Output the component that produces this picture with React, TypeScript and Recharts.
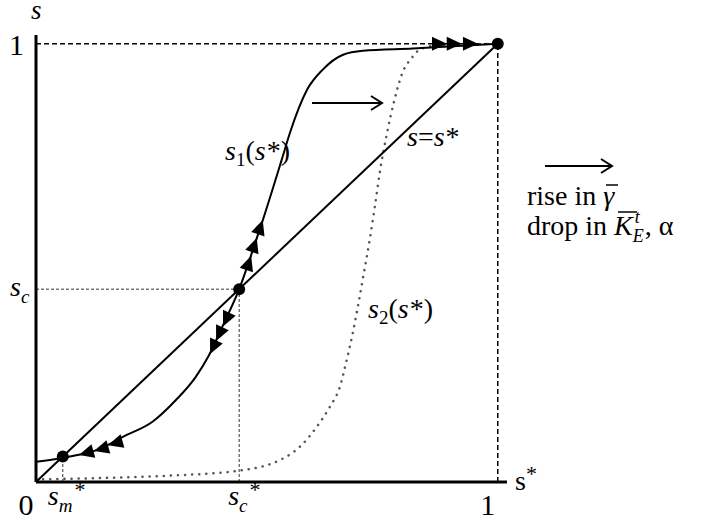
import React from 'react'
import { ComposedChart, Line, Scatter, XAxis, YAxis, ReferenceLine } from 'recharts'

// equilibrium points
const SM = 0.058
const SC = 0.44

// s1(s*) – solid curve
const S1_X = [0, 0.058, 0.093, 0.126, 0.158, 0.188, 0.253, 0.303, 0.346, 0.374, 0.405, 0.44, 0.465, 0.491, 0.532, 0.55, 0.587, 0.621, 0.665, 0.708, 0.816, 1]
const S1_Y = [0.046, 0.055, 0.062, 0.071, 0.086, 0.103, 0.138, 0.187, 0.24, 0.288, 0.358, 0.44, 0.515, 0.597, 0.735, 0.797, 0.895, 0.941, 0.975, 0.984, 0.989, 1]

// s2(s*) – dotted curve
const S2_X = [0, 0.1, 0.2, 0.3, 0.448, 0.485, 0.528, 0.571, 0.608, 0.636, 0.658, 0.673, 0.686, 0.697, 0.708, 0.723, 0.734, 0.745, 0.76, 0.777, 0.794, 0.814, 0.825, 0.86, 1]
const S2_Y = [0.006, 0.008, 0.011, 0.015, 0.027, 0.034, 0.05, 0.08, 0.126, 0.171, 0.217, 0.279, 0.34, 0.4, 0.465, 0.555, 0.63, 0.71, 0.795, 0.875, 0.935, 0.968, 0.982, 0.995, 1]

// s = s*
const DIAG = [0, 1]

// arrow heads along s1: tip position + direction (data units)
const ARROW_X = [0.89, 0.922, 0.957, 0.466, 0.478, 0.491, 0.405, 0.39, 0.377, 0.093, 0.1255, 0.156]
const ARROW_Y = [1, 1, 1, 0.516, 0.557, 0.598, 0.355, 0.322, 0.292, 0.0616, 0.0708, 0.084]
const ARROW_DX = [1, 1, 1, 0.051, 0.051, 0.051, -0.03, -0.03, -0.03, -1, -1, -1]
const ARROW_DY = [0, 0, 0, 0.158, 0.158, 0.158, -0.068, -0.068, -0.068, -0.3, -0.3, -0.3]

const DOT_X = [SM, SC, 1]

const W = 712
const H = 521
const MARGIN = { top: 35, right: 205, bottom: 0, left: 0 }
const PX_X = 462 // px per unit on x
const PX_Y = 438 // px per unit on y
const FONT = "'Liberation Serif', 'DejaVu Serif', serif"
const serif = { fontFamily: FONT }

const s1Data = S1_X.map((x, i) => ({ x, y: S1_Y[i] }))
const s2Data = S2_X.map((x, i) => ({ x, y: S2_Y[i] }))
const diagData = DIAG.map(v => ({ x: v, y: v }))
const arrowData = ARROW_X.map((x, i) => ({ x, y: ARROW_Y[i], dx: ARROW_DX[i], dy: ARROW_DY[i] }))
const dotData = DOT_X.map(v => ({ x: v, y: v }))

const ArrowHead = (props: any) => {
  const { cx, cy, payload } = props
  const ang = (Math.atan2(-payload.dy * PX_Y, payload.dx * PX_X) * 180) / Math.PI
  return (
    <polygon
      points="0,0 -15,-7 -15,7"
      fill="#000"
      transform={`translate(${cx},${cy}) rotate(${ang})`}
    />
  )
}

const Dot = (props: any) => <circle cx={props.cx} cy={props.cy} r={6} fill="#000" />

const XTick = (props: any) => {
  const { x, y, payload } = props
  const v = payload.value
  if (v === 0 || v === 1) {
    return (
      <text x={x - 10} y={y + 33} fontSize={30} style={serif} textAnchor="middle" fill="#000">
        {v === 0 ? '0' : '1'}
      </text>
    )
  }
  const sub = v === SM ? 'm' : 'c'
  return (
    <text x={x - (v === SM ? 15 : 11)} y={y + 23} fontSize={28} style={serif} fill="#000">
      <tspan fontStyle="italic">s</tspan>
      <tspan fontStyle="italic" fontSize={19} dy={7}>{sub}</tspan>
      <tspan fontSize={22} dx={2} dy={-15}>*</tspan>
    </text>
  )
}

const YTick = (props: any) => {
  const { x, y, payload } = props
  if (payload.value === 1) {
    return <text x={x - 12} y={y + 11} fontSize={30} style={serif} textAnchor="end" fill="#000">1</text>
  }
  return (
    <text x={x - 26} y={y + 7} fontSize={28} style={serif} fill="#000">
      <tspan fontStyle="italic">s</tspan>
      <tspan fontStyle="italic" fontSize={19} dy={7}>c</tspan>
    </text>
  )
}

const Annotations = () => (
  <svg width={W} height={H} style={{ position: 'absolute', left: 0, top: 0, pointerEvents: 'none' }}>
    <g style={serif} fill="#000">
      <text x={31} y={19} fontSize={27} fontStyle="italic">s</text>
      <text x={515} y={490} fontSize={28}>
        s<tspan fontSize={22} dy={-9}>*</tspan>
      </text>

      <text x={225} y={160} fontSize={28}>
        <tspan fontStyle="italic">s</tspan>
        <tspan fontSize={19} dy={6}>1</tspan>
        <tspan dy={-6}>(</tspan>
        <tspan fontStyle="italic">s</tspan>
        <tspan dx={1}>*)</tspan>
      </text>
      <text x={407} y={146} fontSize={28}>
        <tspan fontStyle="italic">s</tspan>
        <tspan>=</tspan>
        <tspan fontStyle="italic">s</tspan>
        <tspan dx={1}>*</tspan>
      </text>
      <text x={368} y={318} fontSize={28}>
        <tspan fontStyle="italic">s</tspan>
        <tspan fontSize={19} dy={6}>2</tspan>
        <tspan dy={-6}>(</tspan>
        <tspan fontStyle="italic">s</tspan>
        <tspan dx={1}>*)</tspan>
      </text>

      <text x={527} y={205} fontSize={28}>
        rise in <tspan fontStyle="italic">γ</tspan>
      </text>
      <text x={527} y={235} fontSize={28}>
        drop in <tspan fontStyle="italic">K</tspan>
        <tspan fontStyle="italic" fontSize={18} dy={7}>E</tspan>
        <tspan fontStyle="italic" fontSize={18} dx={-9} dy={-19}>t</tspan>
        <tspan dx={5} dy={12}>, α</tspan>
      </text>
    </g>
    <g stroke="#000" strokeWidth={2} fill="none">
      <line x1={312} y1={103} x2={382} y2={103} />
      <polyline points="371,96 382,103 371,110" />
      <line x1={545} y1={166} x2={612} y2={166} />
      <polyline points="601,159 612,166 601,173" />
    </g>
    {/* bars over gamma and K */}
    <g stroke="#000" strokeWidth={1.5}>
      <line x1={606} y1={185} x2={618} y2={185} />
      <line x1={618} y1={212} x2={637} y2={212} />
    </g>
  </svg>
)

export default function App() {
  return (
    <div style={{ position: 'absolute', left: 0, top: 0, width: W, height: H, background: '#fff' }}>
      <ComposedChart width={W} height={H} margin={MARGIN}>
        <XAxis
          type="number"
          dataKey="x"
          domain={[0, 1.02]}
          ticks={[0, SM, SC, 1]}
          interval={0}
          allowDataOverflow
          height={39}
          tickSize={0}
          tickMargin={0}
          tickLine={false}
          axisLine={{ stroke: '#000', strokeWidth: 3 }}
          tick={<XTick />}
        />
        <YAxis
          type="number"
          dataKey="y"
          domain={[0, 1.02]}
          ticks={[SC, 1]}
          interval={0}
          allowDataOverflow
          width={36}
          tickSize={0}
          tickMargin={0}
          tickLine={false}
          axisLine={{ stroke: '#000', strokeWidth: 3 }}
          tick={<YTick />}
        />
        <ReferenceLine segment={[{ x: 0, y: 1 }, { x: 1, y: 1 }]} stroke="#000" strokeWidth={1.5} strokeDasharray="5 3" />
        <ReferenceLine segment={[{ x: 1, y: 0 }, { x: 1, y: 1 }]} stroke="#000" strokeWidth={1.5} strokeDasharray="5 3" />
        <ReferenceLine segment={[{ x: 0, y: SC }, { x: SC, y: SC }]} stroke="#333" strokeWidth={1} strokeDasharray="3 2" />
        <ReferenceLine segment={[{ x: SC, y: 0 }, { x: SC, y: SC }]} stroke="#333" strokeWidth={1} strokeDasharray="3 2" />
        <ReferenceLine segment={[{ x: SM, y: 0 }, { x: SM, y: SM }]} stroke="#333" strokeWidth={1} strokeDasharray="3 2" />
        <Line data={s2Data} dataKey="y" type="monotone" stroke="#555" strokeWidth={2.5} strokeDasharray="0.1 7" strokeLinecap="round" dot={false} isAnimationActive={false} />
        <Line data={diagData} dataKey="y" type="linear" stroke="#000" strokeWidth={2} dot={false} isAnimationActive={false} />
        <Line data={s1Data} dataKey="y" type="monotone" stroke="#000" strokeWidth={2} dot={false} isAnimationActive={false} />
        <Scatter data={arrowData} dataKey="y" shape={<ArrowHead />} isAnimationActive={false} />
        <Scatter data={dotData} dataKey="y" shape={<Dot />} isAnimationActive={false} />
      </ComposedChart>
      <Annotations />
    </div>
  )
}
